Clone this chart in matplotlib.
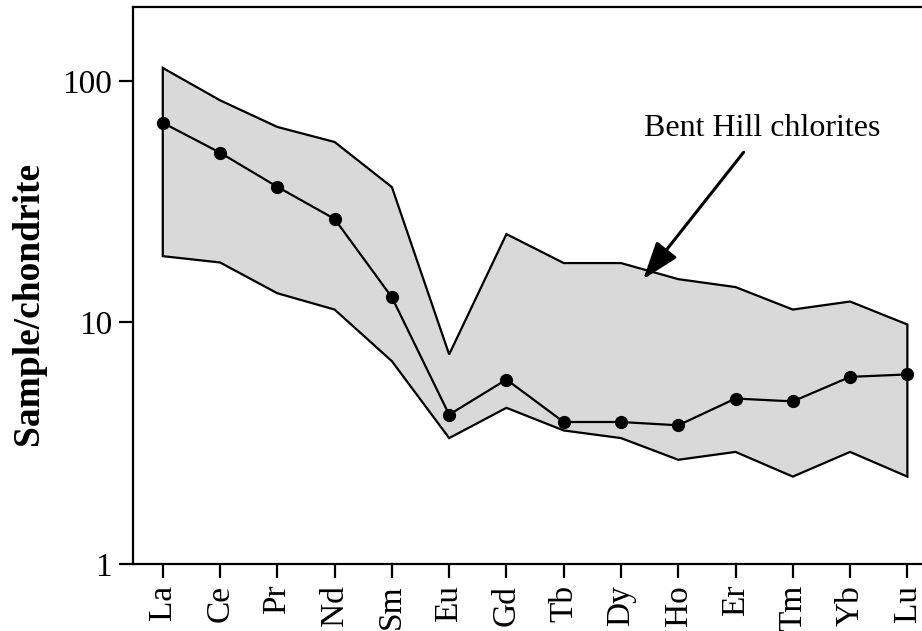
import matplotlib
matplotlib.use("Agg")
import matplotlib.pyplot as plt

# Rare earth elements, chondrite-normalised
elements = ["La", "Ce", "Pr", "Nd", "Sm", "Eu", "Gd", "Tb", "Dy", "Ho", "Er", "Tm", "Yb", "Lu"]
average = [67, 50.4, 36.4, 26.8, 12.7, 4.15, 5.8, 3.87, 3.87, 3.75, 4.84, 4.71, 5.95, 6.09]
range_max = [113, 83, 64.4, 55.8, 36.3, 7.37, 23.2, 17.6, 17.6, 15.1, 14.0, 11.3, 12.2, 9.8]
range_min = [18.8, 17.7, 13.2, 11.3, 6.91, 3.32, 4.43, 3.57, 3.32, 2.70, 2.91, 2.30, 2.91, 2.30]
y_ticks = [1, 10, 100]
y_tick_labels = ["1", "10", "100"]
annotation_text = "Bent Hill chlorites"

plt.rcParams["font.family"] = ["Liberation Serif", "DejaVu Serif"]

fig = plt.figure(figsize=(9.22, 6.31), dpi=100)
ax = fig.add_axes([133 / 922, 67 / 631, 803 / 922, 557 / 631])

x = list(range(len(elements)))

# shaded envelope: upper bound left to right, lower bound right to left
poly_x = x + x[::-1]
poly_y = range_max + range_min[::-1]
ax.fill(poly_x, poly_y, facecolor="#d9d9d9", edgecolor="black", linewidth=1.6, zorder=1)

ax.plot(x, average, color="black", linewidth=1.6, marker="o", markersize=8.5, zorder=3)

ax.set_yscale("log")
ax.set_ylim(1, 202)
ax.set_xlim(-0.52, 13.5)
ax.set_yticks(y_ticks)
ax.set_yticklabels(y_tick_labels)
ax.yaxis.set_minor_locator(matplotlib.ticker.NullLocator())
ax.set_xticks(x)
ax.set_xticklabels(elements, rotation=90)

ax.tick_params(axis="both", direction="out", length=10, width=1.6, labelsize=24, pad=5)
for side in ax.spines.values():
    side.set_linewidth(1.6)

fig.text(29 / 922, 1 - 303 / 631, "Sample/chondrite", rotation=90, ha="center", va="center",
         fontsize=27, fontweight="bold")

ax.annotate(annotation_text, xy=(8.39, 15.1), xytext=(10.47, 63.5), ha="center", va="center",
            fontsize=23,
            arrowprops=dict(arrowstyle="-|>,head_length=1.0,head_width=0.35", color="black",
                            linewidth=2.2, shrinkA=6, shrinkB=0))

fig.savefig("out.png", dpi=100)
